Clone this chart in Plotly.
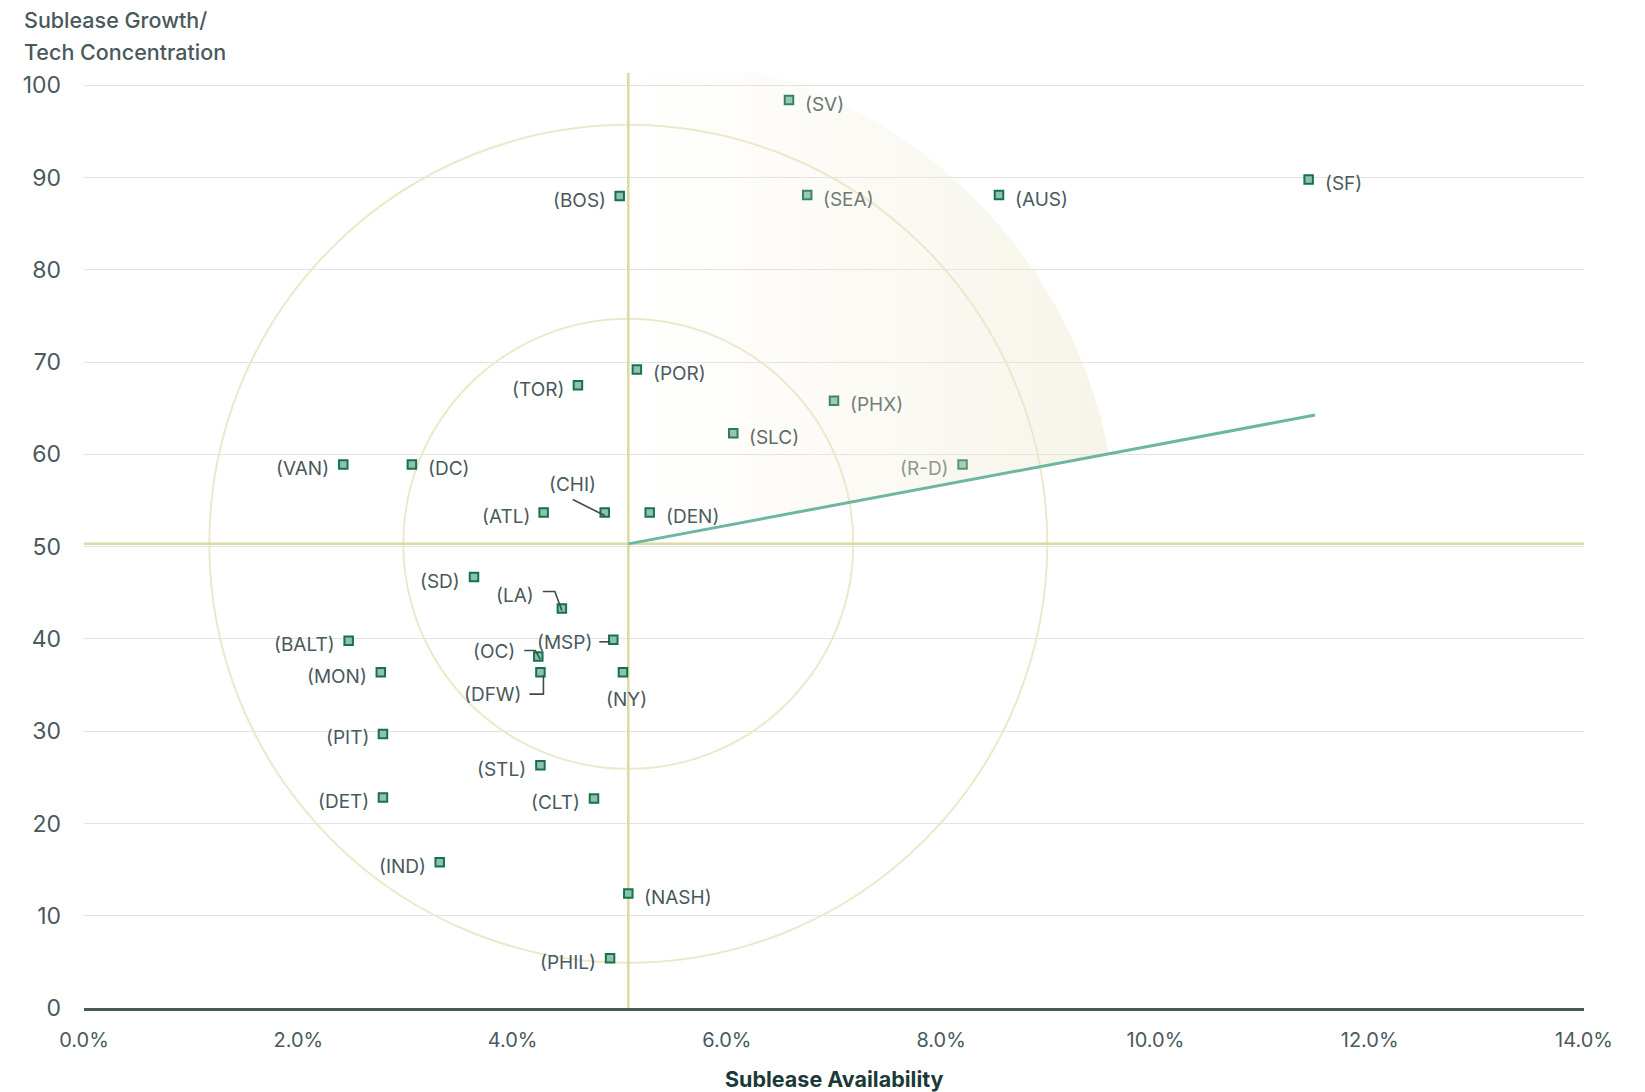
import math
import plotly.graph_objects as go

# ---- data -------------------------------------------------------------
markets = ["SV", "SF", "AUS", "SEA", "BOS", "POR", "TOR", "PHX", "SLC", "R-D",
           "VAN", "DC", "CHI", "ATL", "DEN", "SD", "LA", "BALT", "MSP", "OC",
           "MON", "DFW", "NY", "PIT", "STL", "DET", "CLT", "IND", "NASH", "PHIL"]
sublease_availability = [6.58, 11.43, 8.54, 6.75, 5.00, 5.16, 4.61, 7.00, 6.06, 8.20,
                         2.42, 3.06, 4.86, 4.29, 5.28, 3.64, 4.46, 2.47, 4.94, 4.24,
                         2.77, 4.26, 5.03, 2.79, 4.26, 2.79, 4.76, 3.32, 5.08, 4.91]
growth_tech_score = [98.4, 89.8, 88.1, 88.1, 88.0, 69.2, 67.5, 65.8, 62.3, 58.9,
                     58.9, 58.9, 53.7, 53.7, 53.7, 46.7, 43.3, 39.8, 39.9, 38.1,
                     36.4, 36.4, 36.4, 29.7, 26.3, 22.8, 22.7, 15.8, 12.4, 5.4]

# benchmark crosshair (average market) and trend line end point
avg_availability = 5.08
avg_score = 50.3
trend_end = (11.49, 64.26)

x_ticks = [0, 2, 4, 6, 8, 10, 12, 14]
y_ticks = [0, 10, 20, 30, 40, 50, 60, 70, 80, 90, 100]

# ---- geometry ---------------------------------------------------------
W, H = 1645, 1092
M = dict(l=84, r=61, t=73, b=84)
X_RANGE = [0, 14]
Y_RANGE = [0, 101.33]
px_x = (W - M["l"] - M["r"]) / (X_RANGE[1] - X_RANGE[0])   # pixels per % point
px_y = (H - M["t"] - M["b"]) / (Y_RANGE[1] - Y_RANGE[0])   # pixels per score point

TEXT = (74, 89, 92)
SHADE = (236, 232, 206)
SHADE_MAX_ALPHA = 0.45

ring_radii_px = [225, 419]
sector_radius_px = 489
theta_start = math.atan2((trend_end[1] - avg_score) * px_y,
                         (trend_end[0] - avg_availability) * px_x)
theta_end = math.radians(100)

fig = go.Figure()

# market markers
fig.add_trace(go.Scatter(
    x=sublease_availability, y=growth_tech_score, mode="markers",
    marker=dict(symbol="square", size=8.5, color="#8DC3AC",
                line=dict(color="#16714F", width=2)),
    hoverinfo="text", text=markets, showlegend=False))

# shaded "opportunity" sector, fading in from the benchmark
n = 80
sx, sy = [avg_availability], [avg_score]
for i in range(n + 1):
    t = theta_start + (theta_end - theta_start) * i / n
    sx.append(avg_availability + sector_radius_px * math.cos(t) / px_x)
    sy.append(avg_score + sector_radius_px * math.sin(t) / px_y)
sx.append(avg_availability)
sy.append(avg_score)
fig.add_trace(go.Scatter(
    x=sx, y=sy, mode="lines", line=dict(width=0), fill="toself",
    fillgradient=dict(
        type="horizontal",
        start=avg_availability,
        stop=avg_availability + sector_radius_px / px_x,
        colorscale=[[0, "rgba(%d,%d,%d,0)" % SHADE],
                    [1, "rgba(%d,%d,%d,%s)" % (SHADE + (SHADE_MAX_ALPHA,))]]),
    hoverinfo="skip", showlegend=False))

# trend line
fig.add_trace(go.Scatter(
    x=[avg_availability, trend_end[0]], y=[avg_score, trend_end[1]],
    mode="lines", line=dict(color="#6DB6A1", width=3),
    hoverinfo="skip", showlegend=False))

shapes = []
for r in ring_radii_px:
    shapes.append(dict(type="circle", xref="x", yref="y", layer="between",
                       x0=avg_availability - r / px_x, x1=avg_availability + r / px_x,
                       y0=avg_score - r / px_y, y1=avg_score + r / px_y,
                       line=dict(color="rgb(236,232,202)", width=2)))
shapes.append(dict(type="line", xref="x", yref="y", layer="between",
                   x0=avg_availability, x1=avg_availability, y0=0, y1=Y_RANGE[1],
                   line=dict(color="rgb(222,217,160)", width=2.5)))
shapes.append(dict(type="line", xref="x", yref="y", layer="between",
                   x0=X_RANGE[0], x1=X_RANGE[1], y0=avg_score, y1=avg_score,
                   line=dict(color="rgb(222,217,160)", width=2.5)))


def shade_alpha(x, y):
    """Opacity of the sector overlay at a data point (0 outside it)."""
    dx = (x - avg_availability) * px_x
    dy = (y - avg_score) * px_y
    r = math.hypot(dx, dy)
    a = math.atan2(dy, dx)
    if r > sector_radius_px or not (theta_start <= a <= theta_end) or dx <= 0:
        return 0.0
    return min(1.0, 1.4 * SHADE_MAX_ALPHA * dx / sector_radius_px)


def blend(c, a):
    return "rgb(%d,%d,%d)" % tuple(round(c[i] * (1 - a) + SHADE[i] * a) for i in range(3))


# label placement: right by default, left for these, or a pixel offset for labels with leaders
left_labels = {"BOS", "TOR", "R-D", "VAN", "ATL", "SD", "BALT", "MON", "PIT",
               "STL", "DET", "CLT", "IND", "PHIL"}
offset_labels = {"CHI": (-32, -28), "LA": (-47, -13), "MSP": (-49, 3),
                 "OC": (-44, -5), "DFW": (-47, 22), "NY": (4, 27)}
# leader polylines as pixel offsets from the marker (right, down)
leaders = {"CHI": [(-32, -13), (0, 3)],
           "LA": [(-19, -17), (-7, -17), (0, 2)],
           "MSP": [(-14, 2), (-3, 2)],
           "OC": [(-14, -6), (-3, -6), (2, 3)],
           "DFW": [(-11, 22), (3, 22), (3, 3)]}

annotations = []
for name, x, y in zip(markets, sublease_availability, growth_tech_score):
    color = blend(TEXT, shade_alpha(x, y))
    base = dict(x=x, y=y, xref="x", yref="y", text=f"({name})", showarrow=False,
                font=dict(family="Inter", size=19, color=color))
    if name in offset_labels:
        dx, dy = offset_labels[name]
        base.update(xanchor="center", yanchor="middle", xshift=dx, yshift=-dy)
    elif name in left_labels:
        base.update(xanchor="right", yanchor="middle", xshift=-12, yshift=-4)
    else:
        base.update(xanchor="left", yanchor="middle", xshift=14, yshift=-4)
    annotations.append(base)

    if name in leaders:
        pts = [(x + ox / px_x, y - oy / px_y) for ox, oy in leaders[name]]
        path = "M " + " L ".join(f"{px},{py}" for px, py in pts)
        shapes.append(dict(type="path", xref="x", yref="y", path=path, layer="above",
                           line=dict(color="#3E4B4D", width=1.6)))

# axis titles
title_x = (22 - M["l"]) / (W - M["l"] - M["r"])
annotations.append(dict(text="Sublease Growth/", xref="paper", yref="paper",
                        x=title_x, y=(H - M["b"] - 20) / (H - M["t"] - M["b"]),
                        xanchor="left", yanchor="middle", showarrow=False,
                        font=dict(family="Inter", size=21.5, weight=500, color="#4A595C")))
annotations.append(dict(text="Tech Concentration", xref="paper", yref="paper",
                        x=title_x, y=(H - M["b"] - 52) / (H - M["t"] - M["b"]),
                        xanchor="left", yanchor="middle", showarrow=False,
                        font=dict(family="Inter", size=21.5, weight=500, color="#4A595C")))
annotations.append(dict(text="Sublease Availability", xref="paper", yref="paper",
                        x=0.5, y=-(1079 - (H - M["b"])) / (H - M["t"] - M["b"]),
                        xanchor="center", yanchor="middle", showarrow=False,
                        font=dict(family="Inter", size=21.5, weight=700, color="#1B3A37")))

fig.update_layout(
    width=W, height=H, margin=M,
    paper_bgcolor="white", plot_bgcolor="white",
    font=dict(family="Inter", color="#4A595C"),
    showlegend=False,
    shapes=shapes, annotations=annotations,
    xaxis=dict(range=X_RANGE, tickvals=x_ticks,
               ticktext=[f"{v:.1f}%" for v in x_ticks],
               showgrid=False, zeroline=False,
               showline=True, linecolor="#4A585B", linewidth=3,
               ticks="", ticklabelstandoff=12,
               tickfont=dict(family="Inter", size=20, color="#4A595C")),
    yaxis=dict(range=Y_RANGE, tickvals=y_ticks,
               showgrid=True, gridcolor="#E3E3E3", gridwidth=1,
               zeroline=False, showline=False, ticks="", ticklabelstandoff=22,
               tickfont=dict(family="Inter", size=23, color="#4A595C")),
)

fig.write_html("out.html")
